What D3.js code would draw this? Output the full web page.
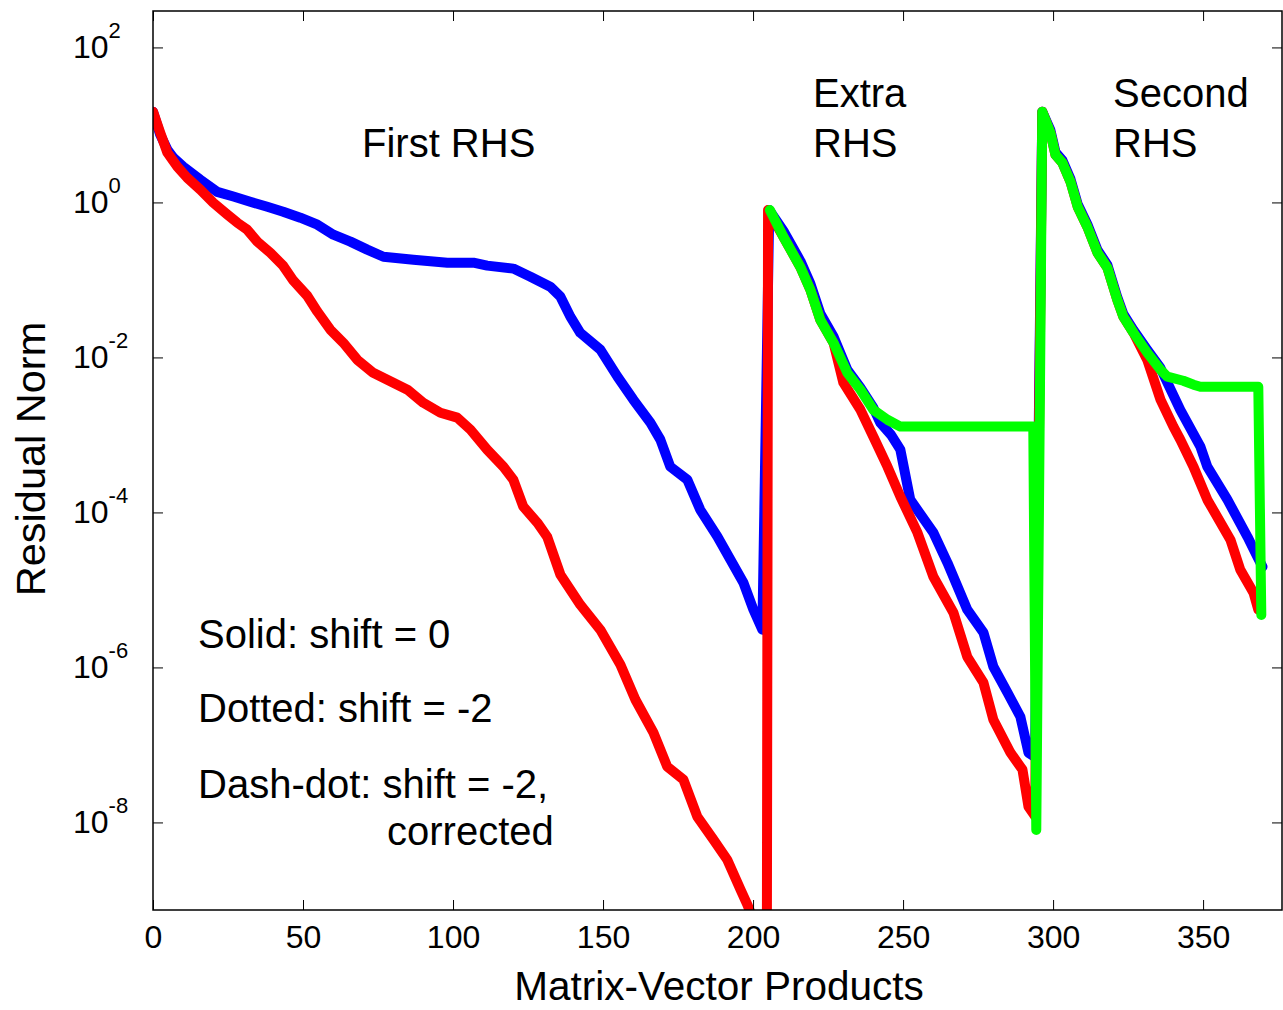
<!DOCTYPE html>
<html>
<head>
<meta charset="utf-8">
<script src="https://cdn.jsdelivr.net/npm/d3@7"></script>
<style>
  html, body { margin: 0; padding: 0; background: #fff; }
  svg { display: block; }
  text { font-family: "Liberation Sans", Arial, sans-serif; fill: #000; }
</style>
</head>
<body>
<svg id="chart" width="1283" height="1010"></svg>
<script>
// ---------------- data ----------------
const xTicks = [0, 50, 100, 150, 200, 250, 300, 350];
const yTickExps = [2, 0, -2, -4, -6, -8];

// Blue: shift = 0
const blueX = [0, 2.4, 4.8, 6.8, 10.1, 15.8, 21.4, 26.8, 32.4, 38.1, 43.4, 49.1, 54.8, 60.1, 65.8, 71.4, 76.8,
  86.8, 98.1, 106.8, 111.4, 120.1, 125.8, 132.4, 135.8, 139.1, 142.4, 149.1, 154.8, 160.1, 165.8, 169.1, 172.4,
  178.1, 182.4, 188.1, 196.8, 200.1, 203.1,
  205.4, 210.1, 215.8, 219.1, 222.4, 226.8, 231.4, 235.8, 240.1, 242.4, 246.0, 249.1, 252.4, 260.1, 264.8,
  271.4, 276.8, 280.1, 284.8, 289.1, 291.8, 294.0,
  296.4, 299.1, 300.8, 303.1, 305.8, 308.2, 311.4, 314.8, 318.1, 321.4, 323.4, 326.8, 331.4, 335.8, 342.4,
  349.1, 351.4, 358.1, 364.8, 368.1, 369.8];
const blueY = [14.8, 7.48, 4.79, 3.78, 2.89, 1.96, 1.37, 1.19, 1.02, 0.88, 0.76, 0.635, 0.516, 0.384, 0.312, 0.246, 0.199,
  0.182, 0.167, 0.167, 0.153, 0.140, 0.110, 0.0818, 0.0608, 0.0336, 0.0208, 0.0126, 5.65e-3, 2.85e-3, 1.44e-3, 8.7e-4, 3.9e-4,
  2.64e-4, 1.08e-4, 4.9e-5, 1.24e-5, 5.6e-6, 3.07e-6,
  0.8, 0.43, 0.175, 0.09, 0.037, 0.0186, 6.95e-3, 4.06e-3, 2.24e-3, 1.44e-3, 1.0e-3, 6.45e-4, 1.46e-4, 5.47e-5, 2.24e-5,
  5.56e-6, 2.81e-6, 1.02e-6, 4.72e-7, 2.31e-7, 7.94e-8, 7.0e-8,
  14.8, 8.6, 4.45, 3.5, 2.0, 0.95, 0.525, 0.243, 0.156, 0.060, 0.0363, 0.0225, 0.0125, 7.3e-3, 2.11e-3,
  7.05e-4, 3.89e-4, 1.46e-4, 4.85e-5, 2.68e-5, 1.99e-5];

// Red: shift = -2
const redX = [0, 2.4, 4.8, 8.1, 11.4, 15.8, 20.1, 24.8, 28.1, 31.4, 34.8, 39.1, 43.4, 46.8, 51.4, 54.8, 59.1,
  63.4, 68.1, 73.4, 80.1, 84.8, 90.1, 95.8, 101.4, 105.8, 111.4, 116.8, 120.1, 123.4, 128.1, 131.4, 135.8,
  142.4, 149.1, 155.8, 160.8, 166.8, 171.4, 176.8, 181.4, 186.8, 191.4, 195.8, 198.1, 204.6,
  205.0, 210.1, 215.8, 219.1, 222.4, 226.8, 230.1, 235.8, 240.1, 244.8, 249.1, 254.8, 260.1, 266.8, 271.4,
  276.8, 280.1, 285.8, 289.8, 291.8, 294.0,
  296.4, 299.1, 300.8, 303.1, 305.8, 308.2, 311.4, 314.8, 318.1, 321.4, 323.4, 326.8, 331.4, 335.8, 340.1,
  342.4, 346.8, 351.4, 359.1, 362.4, 366.8, 368.4];
const redY = [14.8, 7.93, 4.38, 2.89, 2.08, 1.46, 0.99, 0.695, 0.547, 0.445, 0.311, 0.224, 0.152, 0.0977, 0.0625, 0.0389, 0.0228,
  0.0155, 9.33e-3, 6.34e-3, 4.71e-3, 3.83e-3, 2.60e-3, 1.93e-3, 1.67e-3, 1.17e-3, 6.44e-4, 3.89e-4, 2.64e-4, 1.19e-4, 7.36e-5, 4.85e-5, 1.57e-5,
  6.44e-6, 3.06e-6, 1.08e-6, 3.83e-7, 1.44e-7, 5.24e-8, 3.56e-8, 1.19e-8, 5.98e-9, 3.30e-9, 1.36e-9, 8.7e-10, 2e-10,
  0.8, 0.36, 0.146, 0.0748, 0.0307, 0.0155, 4.72e-3, 2.11e-3, 9.48e-4, 3.89e-4, 1.60e-4, 5.47e-5, 1.48e-5, 5.08e-6, 1.37e-6,
  6.35e-7, 2.11e-7, 7.94e-8, 4.79e-8, 1.60e-8, 1.2e-8,
  14.8, 7.93, 4.12, 3.25, 1.85, 0.88, 0.486, 0.225, 0.144, 0.0555, 0.0336, 0.0208, 9.3e-3, 2.85e-3, 1.28e-3,
  8.7e-4, 3.89e-4, 1.46e-4, 4.45e-5, 1.82e-5, 9.2e-6, 5.56e-6];

// Green: shift = -2, corrected
const greenX = [205.6, 210.1, 215.8, 219.1, 222.4, 226.8, 231.4, 235.8, 240.1, 244.8, 249.1, 293.4, 294.4,
  296.4, 299.1, 300.8, 303.1, 305.8, 308.2, 311.4, 314.8, 318.1, 321.4, 323.4, 326.8, 331.4, 335.8, 338.1,
  343.4, 346.8, 349.1, 368.4, 369.4];
const greenY = [0.8, 0.36, 0.146, 0.0748, 0.0307, 0.0155, 6.35e-3, 3.83e-3, 2.11e-3, 1.57e-3, 1.28e-3, 1.28e-3, 8.0e-9,
  14.8, 7.93, 4.12, 3.25, 1.85, 0.88, 0.486, 0.225, 0.144, 0.0555, 0.0336, 0.0208, 0.0115, 6.93e-3, 5.64e-3,
  5.0e-3, 4.45e-3, 4.19e-3, 4.19e-3, 4.75e-6];

const seriesColors = ["#0000ff", "#ff0000", "#00ff00"];

// ---------------- drawing ----------------
const svg = d3.select("#chart");
const L = 153, R = 1282, T = 11, B = 910;

const x = d3.scaleLinear().domain([0, 376.3]).range([L, R]);
const y = d3.scaleLog().domain([Math.pow(10, -9.13), Math.pow(10, 2.47)]).range([B, T]);

svg.append("defs").append("clipPath").attr("id", "plotclip")
  .append("rect").attr("x", L).attr("y", T).attr("width", R - L).attr("height", B - T);

const line = d3.line().x(d => x(d[0])).y(d => y(d[1]));
const series = [
  d3.zip(blueX, blueY),
  d3.zip(redX, redY),
  d3.zip(greenX, greenY)
];

const plot = svg.append("g").attr("clip-path", "url(#plotclip)");
series.forEach((s, i) => {
  plot.append("path")
    .attr("d", line(s))
    .attr("fill", "none")
    .attr("stroke", seriesColors[i])
    .attr("stroke-width", 10)
    .attr("stroke-linejoin", "round")
    .attr("stroke-linecap", "round");
});

// axes (ticks inward)
const tickStyle = g => {
  g.select(".domain").remove();
  g.selectAll(".tick line").attr("stroke", "#000").attr("stroke-width", 1);
};
const yTickVals = yTickExps.map(e => Math.pow(10, e));

const gx = svg.append("g").attr("transform", `translate(0,${B})`)
  .call(d3.axisBottom(x).tickValues(xTicks).tickSize(-10).tickSizeOuter(0).tickPadding(15).tickFormat(d3.format("d")))
  .call(tickStyle);
gx.selectAll(".tick text")
  .attr("font-family", '"Liberation Sans", Arial, sans-serif')
  .attr("font-size", 32).attr("fill", "#000");

svg.append("g").attr("transform", `translate(0,${T})`)
  .call(d3.axisTop(x).tickValues(xTicks).tickSize(-10).tickSizeOuter(0).tickFormat(""))
  .call(tickStyle);

const gy = svg.append("g").attr("transform", `translate(${L},0)`)
  .call(d3.axisLeft(y).tickValues(yTickVals).tickSize(-10).tickSizeOuter(0).tickFormat(""))
  .call(tickStyle);
gy.selectAll(".tick").each(function(d, i) {
  const t = d3.select(this).append("text")
    .attr("x", 73 - L).attr("y", 10)
    .attr("text-anchor", "start")
    .attr("font-size", 32)
    .attr("font-family", '"Liberation Sans", Arial, sans-serif')
    .attr("fill", "#000")
    .text("10");
  t.append("tspan").attr("font-size", 22).attr("dy", -19.5).text(yTickExps[i]);
});

svg.append("g").attr("transform", `translate(${R},0)`)
  .call(d3.axisRight(y).tickValues(yTickVals).tickSize(-10).tickSizeOuter(0).tickFormat(""))
  .call(tickStyle);

// frame
svg.append("rect").attr("x", L).attr("y", T).attr("width", R - L).attr("height", B - T)
  .attr("fill", "none").attr("stroke", "#000").attr("stroke-width", 1.5);

// axis labels
svg.append("text").attr("x", 719).attr("y", 1000).attr("text-anchor", "middle")
  .attr("font-size", 40.5).text("Matrix-Vector Products");
svg.append("text").attr("transform", "translate(45,459) rotate(-90)").attr("text-anchor", "middle")
  .attr("font-size", 41.5).text("Residual Norm");

// annotations
const notes = [
  { t: "First RHS", x: 362, y: 157 },
  { t: "Extra", x: 813, y: 107 },
  { t: "RHS", x: 813, y: 157 },
  { t: "Second", x: 1113, y: 107 },
  { t: "RHS", x: 1113, y: 157 },
  { t: "Solid: shift = 0", x: 198, y: 648 },
  { t: "Dotted: shift = -2", x: 198, y: 722 },
  { t: "Dash-dot: shift = -2,", x: 198, y: 798 },
  { t: "corrected", x: 387, y: 845 }
];
svg.append("g").selectAll("text").data(notes).join("text")
  .attr("x", d => d.x).attr("y", d => d.y).attr("font-size", 40).text(d => d.t);
</script>
</body>
</html>
